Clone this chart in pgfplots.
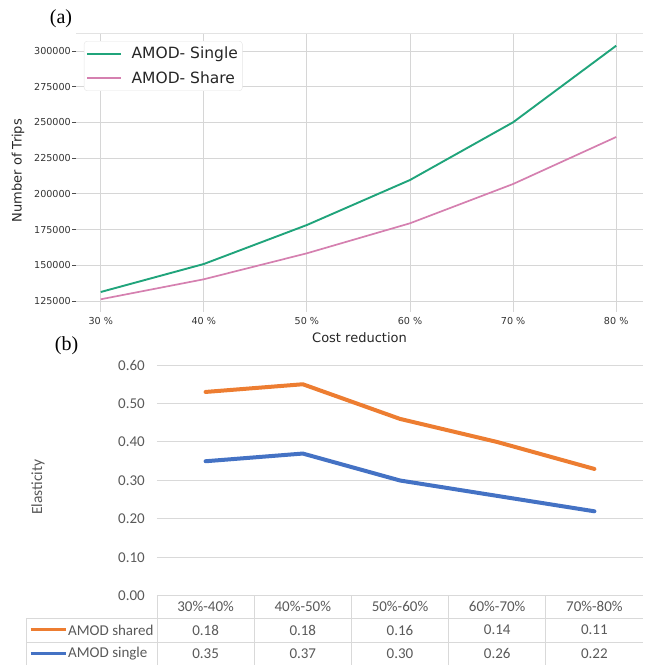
\documentclass[border=0pt]{standalone}
\usepackage{pgfplots}
\usepackage{pgfplotstable}
\pgfplotsset{compat=1.18}
\usepackage{fontspec}
\newfontfamily\mplfont{DejaVu Sans}
\newfontfamily\xlfont{Carlito}
\newfontfamily\serifont{Liberation Serif}

\definecolor{single}{HTML}{20A47B}
\definecolor{share}{HTML}{D580B0}
\definecolor{xlorange}{HTML}{ED7D31}
\definecolor{xlblue}{HTML}{4472C4}
\definecolor{xltext}{HTML}{595959}
\definecolor{xlgrid}{HTML}{D9D9D9}
\definecolor{mplgrid}{HTML}{D6D6D6}

% (a) number of trips against cost reduction
\pgfplotstableread{
cost single share
30 131300 126200
40 150900 140200
50 178200 158400
60 209700 179400
70 250100 206900
80 303700 239800
}\tripdata

% (b) elasticity per cost-reduction band (stacked line chart)
\pgfplotstableread{
idx single shared
0 0.35 0.18
1 0.37 0.18
2 0.30 0.16
3 0.26 0.14
4 0.22 0.11
}\elastdata

\begin{document}
\begin{tikzpicture}[x=1pt,y=1pt]
\useasboundingbox (0,0) rectangle (654,665);

% ---------------- panel (a) ----------------
\node[font=\serifont\fontsize{20}{22}\selectfont, anchor=base] at (61,641) {(a)};
\begin{axis}[
  at={(76pt,353pt)}, anchor=south west, scale only axis,
  width=567pt, height=279pt,
  xmin=27.6, xmax=82.6, ymin=117300, ymax=312600,
  xtick={30,40,50,60,70,80},
  xticklabels={30 \%,40 \%,50 \%,60 \%,70 \%,80 \%},
  ytick={125000,150000,175000,200000,225000,250000,275000,300000},
  scaled y ticks=false,
  yticklabel style={/pgf/number format/fixed,/pgf/number format/1000 sep={}, inner xsep=1.5pt},
  xticklabel style={yshift=2pt},
  /pgf/number format/assume math mode=true,
  xmajorgrids, ymajorgrids, grid style={mplgrid, line width=0.9pt},
  axis line style={draw=none},
  tick align=outside, xtick pos=bottom, ytick pos=left,
  x tick style={draw=none},
  y tick style={black!70, line width=0.8pt}, major tick length=3.5pt,
  tick label style={font=\mplfont\fontsize{9.6}{11}\selectfont, text=black!80},
  xlabel={Cost reduction}, ylabel={Number of Trips},
  every axis x label/.style={at={(axis description cs:0.5,0)}, anchor=center, yshift=-26pt,
    font=\mplfont\fontsize{13}{15}\selectfont, text=black!85},
  every axis y label/.style={at={(axis description cs:0,0.5)}, xshift=-58pt, yshift=2pt,
    rotate=90, anchor=center,
    font=\mplfont\fontsize{13}{15}\selectfont, text=black!85},
  legend style={at={(axis description cs:0.0141,0.9713)}, anchor=north west,
    draw=gray!20, rounded corners=3pt, fill=white,
    font=\mplfont\fontsize{15.5}{18}\selectfont, text=black!85,
    inner xsep=2pt, inner ysep=3.5pt, row sep=6pt, nodes={inner sep=2.5pt}},
  legend cell align=left,
  legend image code/.code={\draw[#1] (0pt,0pt) -- (34pt,0pt); \path (41pt,0pt);},
]
\addplot[single, line width=1.9pt] table[x=cost,y=single]{\tripdata};
\addlegendentry{AMOD- Single}
\addplot[share, line width=1.7pt] table[x=cost,y=share]{\tripdata};
\addlegendentry{AMOD- Share}
\draw[gray!22, line width=0.8pt] (rel axis cs:0,1) -- (rel axis cs:1,1) -- (rel axis cs:1,0);
\draw[black!65, line width=0.9pt] (rel axis cs:0,0) -- (rel axis cs:1,0);
\end{axis}

% ---------------- panel (b) ----------------
\node[font=\serifont\fontsize{20}{22}\selectfont, anchor=base] at (66.5,314) {(b)};
\begin{axis}[
  at={(157pt,69pt)}, anchor=south west, scale only axis,
  width=486pt, height=231pt,
  xmin=-0.5, xmax=4.5, ymin=0, ymax=0.6,
  xtick=\empty,
  ytick={0,0.1,0.2,0.3,0.4,0.5,0.6},
  yticklabel style={/pgf/number format/fixed,/pgf/number format/fixed zerofill,
    /pgf/number format/precision=2, inner sep=0pt, xshift=-12pt},
  /pgf/number format/assume math mode=true,
  tick label style={font=\xlfont\fontsize{15}{17}\selectfont, text=xltext},
  major tick length=0pt,
  axis line style={draw=none},
  ymajorgrids, grid style={xlgrid, line width=1pt},
  ylabel={Elasticity},
  every axis y label/.style={at={(axis description cs:0,0.5)}, xshift=-119pt, yshift=-6.5pt,
    rotate=90, anchor=center, font=\xlfont\fontsize{15.5}{17}\selectfont, text=xltext},
  stack plots=y, clip=false,
]
\addplot[xlblue, line width=4pt, line cap=round, line join=round] table[x=idx,y=single]{\elastdata};
\addplot[xlorange, line width=4pt, line cap=round, line join=round] table[x=idx,y=shared]{\elastdata};
\end{axis}

% data table below panel (b)
\begin{scope}[xlgrid, line width=1pt]
  \draw (26.7,46.7) -- (643,46.7);
  \draw (26.7,22.7) -- (643,22.7);
  \draw (26.7,46.7) -- (26.7,0);
  \foreach \k in {0,...,4} { \draw ({157+97.2*\k},69) -- ({157+97.2*\k},0); }
\end{scope}
\draw[xlorange, line width=3pt] (30.7,35) -- (66,35);
\draw[xlblue, line width=3pt] (30.7,11.7) -- (66,11.7);
\begin{scope}[every node/.style={font=\xlfont\fontsize{15}{17}\selectfont, text=xltext, inner sep=0pt}]
  \node[anchor=west] at (68,35) {AMOD shared};
  \node[anchor=west] at (68,11.7) {AMOD single};
  \foreach \i/\band in {0/30\%-40\%,1/40\%-50\%,2/50\%-60\%,3/60\%-70\%,4/70\%-80\%} {
    \pgfmathsetmacro{\cx}{157+97.2*\i+48.6}
    \node at (\cx,58.3) {\band};
    \pgfplotstablegetelem{\i}{shared}\of\elastdata
    \node at (\cx,35) {\pgfmathprintnumber[assume math mode=true,fixed,fixed zerofill,precision=2]{\pgfplotsretval}};
    \pgfplotstablegetelem{\i}{single}\of\elastdata
    \node at (\cx,11.7) {\pgfmathprintnumber[assume math mode=true,fixed,fixed zerofill,precision=2]{\pgfplotsretval}};
  }
\end{scope}
\end{tikzpicture}
\end{document}
